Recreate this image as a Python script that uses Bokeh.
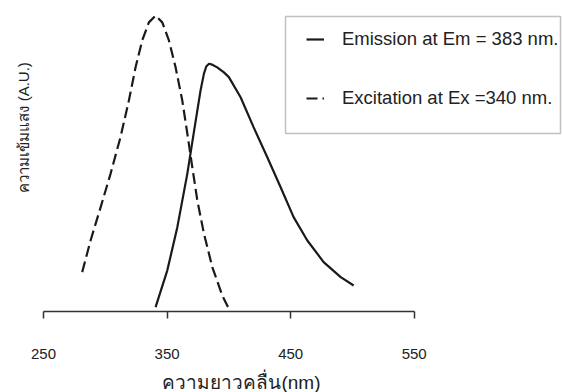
import math
from bokeh.plotting import figure
from bokeh.models import Range1d, FixedTicker, Legend, LegendItem, Title, BoxAnnotation, Label
from bokeh.embed import file_html
from bokeh.resources import INLINE

# Emission spectrum (excitation at 340 nm, peak ~383 nm)
em_wavelength = [340.7, 350.2, 358.3, 366.4, 371.5, 377.1, 379.8, 381.7, 383.9, 386.6,
                 390.6, 396.0, 400.0, 409.5, 420.0, 431.1, 441.9, 452.4, 463.5, 476.7,
                 490.5, 501.0]
em_intensity = [1.5, 13.9, 28.5, 46.6, 60.1, 74.7, 80.3, 82.8, 83.7, 83.4,
                82.5, 80.8, 79.2, 72.4, 62.3, 52.1, 42.0, 31.9, 24.0, 16.7,
                11.6, 8.8]

# Excitation spectrum (emission at 383 nm, peak ~340 nm)
ex_wavelength = [281.3, 288.1, 296.2, 304.3, 312.3, 319.1, 324.5, 329.9, 335.3, 340.7,
                 346.1, 351.5, 356.9, 362.3, 366.4, 370.4, 374.5, 379.8, 386.6, 394.7,
                 400.0]
ex_intensity = [13.3, 24.0, 35.2, 46.6, 58.9, 71.3, 82.5, 91.6, 97.7, 100.0,
                97.7, 91.6, 82.5, 71.3, 60.1, 48.8, 37.5, 26.4, 15.0, 5.4,
                0.9]

x_ticks = [250, 350, 450, 550]
em_label = "Emission at Em = 383 nm."
ex_label = "Excitation at Ex =340 nm."
x_title = "ความยาวคลื่น(nm)"
y_title = "ความเข้มแสง (A.U.)"

FONT = "Liberation Sans"

p = figure(width=563, height=392, output_backend="svg", toolbar_location=None,
           x_range=Range1d(250, 670), y_range=Range1d(0, 103.4),
           min_border_left=43, min_border_right=1, min_border_top=5, min_border_bottom=81,
           y_axis_location=None)
p.outline_line_color = None
p.grid.visible = False
p.background_fill_color = "white"
p.border_fill_color = "white"

xa = p.xaxis[0]
xa.ticker = FixedTicker(ticks=x_ticks)
xa.bounds = (250, 550)
xa.axis_line_color = "#333333"
xa.axis_line_width = 1.5
xa.major_tick_line_color = "#333333"
xa.major_tick_line_width = 1.5
xa.major_tick_in = 0
xa.major_tick_out = 7
xa.minor_tick_line_color = None
xa.major_label_standoff = 30
xa.major_label_text_font = FONT
xa.major_label_text_font_size = "15px"
xa.major_label_text_color = "#222222"

r_em = p.line(em_wavelength, em_intensity, line_color="#1a1a1a", line_width=2.2)
r_ex = p.line(ex_wavelength, ex_intensity, line_color="#1a1a1a", line_width=2.2,
              line_dash="11 5")

box = BoxAnnotation(left=242, right=517, top=295, bottom=178,
                    left_units="screen", right_units="screen",
                    top_units="screen", bottom_units="screen",
                    fill_alpha=0, line_color="#333333", line_width=1.5)
p.add_layout(box)

legend = Legend(items=[LegendItem(label=em_label, renderers=[r_em]),
                       LegendItem(label=ex_label, renderers=[r_ex])],
                location=(263, 202), padding=14, spacing=37,
                glyph_width=18, glyph_height=20, label_height=20,
                label_standoff=18, border_line_color=None,
                background_fill_alpha=0,
                label_text_font=FONT, label_text_font_size="18.5px",
                label_text_color="#222222")
p.add_layout(legend)

p.add_layout(Label(x=198, y=0, x_units="screen", y_units="screen", text=x_title,
                   text_align="center", text_baseline="middle",
                   text_font=FONT, text_font_size="19px", text_color="#222222"), "below")
p.add_layout(Title(text=y_title, align="left", offset=119, standoff=24,
                   text_font=FONT, text_font_size="15px", text_font_style="normal",
                   text_color="#222222"), "left")

open("out.html", "w").write(file_html(p, INLINE))
